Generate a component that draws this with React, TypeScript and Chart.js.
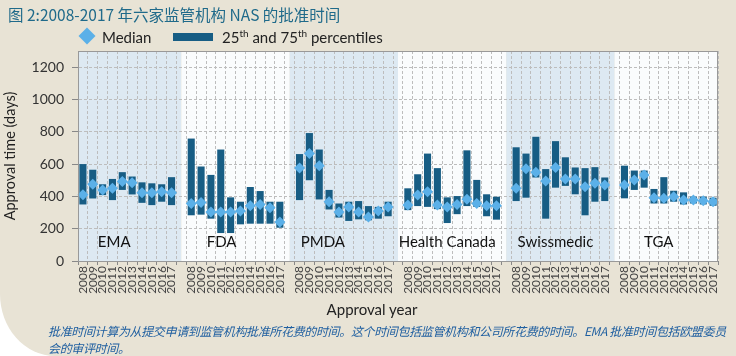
import React, { useEffect, useRef } from "react";
import { Chart, registerables } from "chart.js";

Chart.register(...registerables);

const years = ["2008", "2009", "2010", "2011", "2012", "2013", "2014", "2015", "2016", "2017"];
const agencies = ["EMA", "FDA", "PMDA", "Health Canada", "Swissmedic", "TGA"];

const emaP25 = [350, 387, 408, 377, 440, 412, 360, 346, 367, 346];
const emaP75 = [600, 565, 475, 508, 550, 523, 487, 481, 475, 519];
const emaMedian = [410, 475, 440, 450, 492, 485, 423, 423, 429, 423];

const fdaP25 = [283, 287, 262, 173, 173, 227, 231, 231, 231, 206];
const fdaP75 = [758, 585, 533, 690, 394, 367, 458, 433, 367, 367];
const fdaMedian = [356, 362, 304, 304, 304, 310, 342, 350, 329, 242];

const pmdaP25 = [377, 500, 381, 319, 269, 248, 258, 252, 262, 277];
const pmdaP75 = [662, 792, 690, 440, 356, 367, 371, 340, 335, 367];
const pmdaMedian = [575, 665, 590, 367, 304, 335, 304, 273, 310, 335];

const hcP25 = [315, 340, 335, 321, 235, 290, 340, 335, 277, 256];
const hcP75 = [450, 537, 665, 575, 394, 402, 685, 502, 413, 398];
const hcMedian = [346, 408, 429, 346, 335, 350, 383, 356, 342, 342];

const swissP25 = [371, 392, 517, 262, 454, 465, 413, 283, 367, 371];
const swissP75 = [704, 665, 769, 569, 742, 642, 579, 575, 581, 517];
const swissMedian = [450, 571, 550, 496, 579, 508, 508, 460, 481, 471];

const tgaP25 = [388, 440, 454, 356, 356, 367, 350, 356, 350, 342];
const tgaP75 = [590, 560, 560, 446, 519, 435, 425, 398, 398, 392];
const tgaMedian = [471, 502, 533, 392, 388, 398, 377, 377, 373, 367];

const yTicksMax = 1300;
const yTickStep = 200;

const p25List = [emaP25, fdaP25, pmdaP25, hcP25, swissP25, tgaP25];
const p75List = [emaP75, fdaP75, pmdaP75, hcP75, swissP75, tgaP75];
const medianList = [emaMedian, fdaMedian, pmdaMedian, hcMedian, swissMedian, tgaMedian];

// style-only: horizontal nudge (px) of the agency names, and their value height
const agencyLabelShift = [-13, -14, -21, -5, -5, -10];
const agencyLabelLevel = 115;

const FONT = "Lato, 'Liberation Sans', sans-serif";
const CJK = "'Noto Sans CJK SC', sans-serif";
const BAR_COLOR = "#175d84";
const MEDIAN_COLOR = "#5bb0e8";

function buildSeries() {
  const labels: string[] = [];
  const bars: ([number, number] | null)[] = [];
  const medians: (number | null)[] = [];
  agencies.forEach((_, a) => {
    if (a > 0) {
      labels.push("");
      bars.push(null);
      medians.push(null);
    }
    years.forEach((y, i) => {
      labels.push(y);
      bars.push([p25List[a][i], p75List[a][i]]);
      medians.push(medianList[a][i]);
    });
  });
  return { labels, bars, medians };
}

const panelPlugin = {
  id: "panels",
  beforeDraw(chart: any) {
    const { ctx, chartArea, scales } = chart;
    const x = scales.x;
    const n = agencies.length;
    ctx.save();
    for (let a = 0; a < n; a++) {
      const left = a === 0 ? chartArea.left : x.getPixelForValue(11 * a - 1);
      const right = a === n - 1 ? chartArea.right : x.getPixelForValue(11 * a + 10);
      ctx.fillStyle = a % 2 === 0 ? "#dde9f2" : "#fafcfd";
      ctx.fillRect(left, chartArea.top, right - left, chartArea.bottom - chartArea.top);
    }
    ctx.restore();
  },
  afterDatasetsDraw(chart: any) {
    const { ctx, scales } = chart;
    const x = scales.x;
    const y = scales.y;
    ctx.save();
    ctx.font = `15px ${FONT}`;
    ctx.fillStyle = "#111";
    ctx.textAlign = "center";
    ctx.textBaseline = "middle";
    agencies.forEach((name, a) => {
      const px = x.getPixelForValue(11 * a + 4.5) + agencyLabelShift[a];
      ctx.fillText(name, px, y.getPixelForValue(agencyLabelLevel));
    });
    ctx.restore();
  },
  afterDraw(chart: any) {
    const { ctx, chartArea } = chart;
    ctx.save();
    ctx.strokeStyle = "#999";
    ctx.lineWidth = 1;
    ctx.strokeRect(
      Math.round(chartArea.left) + 0.5,
      Math.round(chartArea.top) + 0.5,
      Math.round(chartArea.right - chartArea.left) - 1,
      Math.round(chartArea.bottom - chartArea.top)
    );
    ctx.restore();
  },
};

export default function App() {
  const canvasRef = useRef<HTMLCanvasElement | null>(null);

  useEffect(() => {
    const canvas = canvasRef.current;
    if (!canvas) return;
    const { labels, bars, medians } = buildSeries();
    const chart = new Chart(canvas, {
      type: "bar",
      data: {
        labels,
        datasets: [
          {
            type: "line",
            label: "Median",
            data: medians,
            showLine: false,
            pointStyle: "rectRot",
            pointRadius: 5.5,
            pointBorderWidth: 0,
            pointBackgroundColor: MEDIAN_COLOR,
            pointBorderColor: MEDIAN_COLOR,
            backgroundColor: MEDIAN_COLOR,
            borderColor: MEDIAN_COLOR,
            order: 0,
          } as any,
          {
            type: "bar",
            label: "25th and 75th percentiles",
            data: bars as any,
            backgroundColor: BAR_COLOR,
            borderWidth: 0,
            barPercentage: 0.72,
            categoryPercentage: 1,
            grouped: false,
            order: 1,
          } as any,
        ],
      },
      options: {
        responsive: false,
        animation: false,
        layout: { padding: { left: 0, top: 51, right: 18, bottom: 38 } },
        plugins: {
          legend: { display: false },
          tooltip: { enabled: false },
          title: { display: false },
        },
        scales: {
          x: {
            type: "category",
            offset: true,
            grid: {
              offset: true,
              color: "#bdbdbd",
              lineWidth: 1,
              drawTicks: true,
              tickLength: 4,
              tickColor: "#888",
            },
            border: { display: true, color: "#888", dash: [3, 2] },
            ticks: {
              autoSkip: false,
              maxRotation: 90,
              minRotation: 90,
              padding: 1,
              color: "#444",
              font: { family: FONT, size: 12 },
            },
            afterFit(scale: any) {
              scale.height = 57;
            },
          },
          y: {
            min: 0,
            max: yTicksMax,
            grid: {
              color: "#bdbdbd",
              lineWidth: 1,
              drawTicks: true,
              tickLength: 6,
              tickColor: "#888",
            },
            border: { display: true, color: "#888", dash: [3, 2] },
            ticks: {
              stepSize: yTickStep,
              includeBounds: false,
              padding: 8,
              color: "#333",
              font: { family: FONT, size: 14 },
              callback: (v: any) => String(v),
            },
            title: {
              display: true,
              text: "Approval time (days)",
              color: "#222",
              font: { family: FONT, size: 14.5 },
              padding: { top: 2, bottom: 4 },
            },
            afterFit(scale: any) {
              scale.width = 78;
            },
          },
        },
      },
      plugins: [panelPlugin],
    });
    return () => chart.destroy();
  }, []);

  return (
    <div
      style={{
        position: "fixed",
        left: 0,
        top: 0,
        width: 736,
        height: 356,
        background: "#e8e3d5",
        borderBottomLeftRadius: "55px 62px",
        overflow: "hidden",
        fontFamily: FONT,
      }}
    >
      <canvas
        ref={canvasRef}
        width={736}
        height={356}
        style={{ position: "absolute", left: 0, top: 0, width: 736, height: 356 }}
      />
      <div
        style={{
          position: "absolute",
          left: 8,
          top: 3,
          fontFamily: CJK,
          fontSize: 15.5,
          color: "#1f6a8a",
          whiteSpace: "nowrap",
          lineHeight: "22px",
        }}
      >
        图 2:2008-2017 年六家监管机构 NAS 的批准时间
      </div>
      <div
        style={{
          position: "absolute",
          left: 81,
          top: 30,
          width: 12,
          height: 12,
          background: MEDIAN_COLOR,
          transform: "rotate(45deg)",
        }}
      />
      <div
        style={{
          position: "absolute",
          left: 102,
          top: 27,
          fontSize: 15,
          lineHeight: "20px",
          color: "#222",
          whiteSpace: "nowrap",
        }}
      >
        Median
      </div>
      <div
        style={{
          position: "absolute",
          left: 173,
          top: 33,
          width: 40,
          height: 8,
          background: BAR_COLOR,
        }}
      />
      <div
        style={{
          position: "absolute",
          left: 222,
          top: 27,
          fontSize: 15,
          lineHeight: "20px",
          color: "#222",
          whiteSpace: "nowrap",
        }}
      >
        25<sup style={{ fontSize: 10, lineHeight: 0 }}>th</sup> and 75
        <sup style={{ fontSize: 10, lineHeight: 0 }}>th</sup> percentiles
      </div>
      <div
        style={{
          position: "absolute",
          left: 372,
          top: 299,
          transform: "translateX(-50%)",
          fontSize: 15,
          lineHeight: "20px",
          color: "#222",
          whiteSpace: "nowrap",
        }}
      >
        Approval year
      </div>
      <div
        style={{
          position: "absolute",
          left: 48,
          top: 322,
          fontFamily: CJK,
          fontStyle: "italic",
          fontSize: 12,
          letterSpacing: "-0.35px",
          lineHeight: "17px",
          color: "#1f5fa0",
          whiteSpace: "nowrap",
        }}
      >
        批准时间计算为从提交申请到监管机构批准所花费的时间。这个时间包括监管机构和公司所花费的时间。EMA 批准时间包括欧盟委员
        <br />
        会的审评时间。
      </div>
    </div>
  );
}
